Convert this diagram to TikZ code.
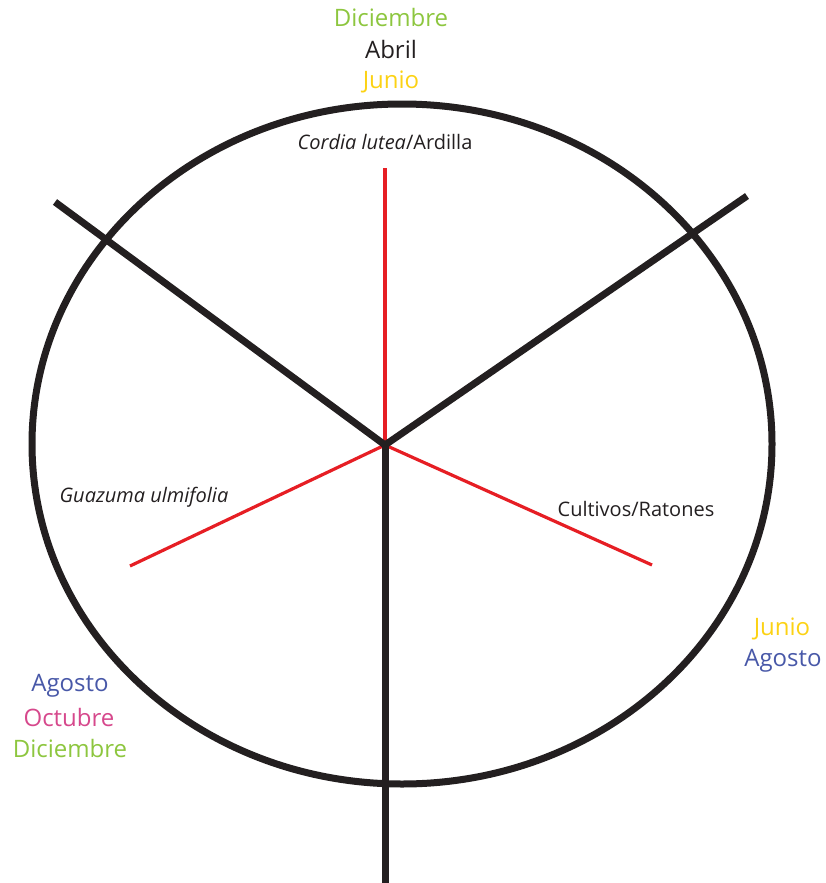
\documentclass[tikz,border=0pt]{standalone}
\usepackage{fontspec}
\setmainfont{Open Sans}
\definecolor{ink}{RGB}{35,31,32}
\definecolor{redl}{RGB}{230,30,36}
\definecolor{mgreen}{RGB}{141,198,63}
\definecolor{myellow}{RGB}{252,210,20}
\definecolor{mblue}{RGB}{72,88,168}
\definecolor{mpink}{RGB}{214,72,140}
\tikzset{
  blackline/.style={draw=ink,line width=7pt,line join=miter},
  redline/.style={draw=redl,line width=3.2pt},
  month/.style={font=\fontsize{24}{24}\selectfont,inner sep=0pt,anchor=center},
  label/.style={font=\fontsize{20}{20}\selectfont,text=ink,inner sep=0pt,anchor=center}
}
\begin{document}
\begin{tikzpicture}[x=1pt,y=-1pt]
\useasboundingbox (0,0) rectangle (825,883);
\coordinate (c) at (385,445);
\coordinate (ul) at (55,202);
\coordinate (ur) at (747,196);
\coordinate (bot) at (385,883);
\coordinate (rt) at (385,168);
\coordinate (rl) at (130,566);
\coordinate (rr) at (652,565);
% red spokes
\draw[redline] (rt) -- (c);
\draw[redline] (c) -- (rl);
\draw[redline] (c) -- (rr);
% circle
\draw[draw=ink,line width=7pt] (402,444) ellipse [x radius=370, y radius=340];
% black spokes
\draw[blackline] (ul) -- (c) -- (ur);
\draw[blackline] (c) -- (bot);
% top months
\node[month,text=mgreen] (t1) at (391,18) {Diciembre};
\node[month,text=ink] (t2) at (391,50) {Abril};
\node[month,text=myellow] (t3) at (391,82) {Junio};
% right months
\node[month,text=myellow] (r1) at (782,629) {Junio};
\node[month,text=mblue] (r2) at (783,661) {Agosto};
% left months
\node[month,text=mblue] (l1) at (70,686) {Agosto};
\node[month,text=mpink] (l2) at (69,717) {Octubre};
\node[month,text=mgreen] (l3) at (70,748) {Diciembre};
% labels
\node[label] (cl) at (385,142) {\textit{Cordia lutea}/Ardilla};
\node[label] (gu) at (144,497) {\textit{Guazuma ulmifolia}};
\node[label] (cr) at (636,509) {Cultivos/Ratones};
\end{tikzpicture}
\end{document}
